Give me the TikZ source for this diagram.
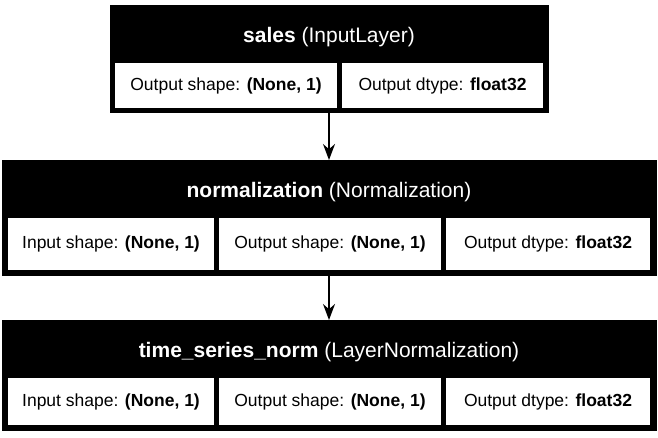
\documentclass[tikz,border=0pt]{standalone}
\usepackage{fontspec}
\setmainfont{Liberation Sans}
\usetikzlibrary{arrows.meta}
\begin{document}
\begin{tikzpicture}[x=1pt,y=-1pt,
  outer/.style={fill=black,draw=black},
  cell/.style={fill=white,draw=none,font=\fontsize{17.5}{20}\selectfont},
  ttl/.style={text=white,font=\fontsize{21}{24}\selectfont},
  arr/.style={-{Stealth[length=16pt,width=12pt]},line width=1.5pt}]
\useasboundingbox (0,0) rectangle (658,437);
% box 1
\fill[outer] (110,5) rectangle (548,112);
\node[ttl] (t1) at (329,37) {\textbf{sales} (InputLayer)};
\fill[cell] (115,63) rectangle (337,108);
\fill[cell] (342,63) rectangle (543,108);
\node[cell] (c11) at (226,86) {Output shape: \textbf{(None, 1)}};
\node[cell] (c12) at (442.5,86) {Output dtype: \textbf{float32}};
\coordinate (b1) at (329,112);
% box 2
\fill[outer] (2,160) rectangle (656,275);
\node[ttl] (t2) at (329,192) {\textbf{normalization} (Normalization)};
\fill[cell] (8,218) rectangle (214,270);
\fill[cell] (219,218) rectangle (441,270);
\fill[cell] (446,218) rectangle (650,270);
\node[cell] (c21) at (111,244) {Input shape: \textbf{(None, 1)}};
\node[cell] (c22) at (330,244) {Output shape: \textbf{(None, 1)}};
\node[cell] (c23) at (548,244) {Output dtype: \textbf{float32}};
\coordinate (a2) at (329,160);
\coordinate (b2) at (329,275);
% box 3
\fill[outer] (2,320) rectangle (656,430);
\node[ttl] (t3) at (329,352) {\textbf{time\_series\_norm} (LayerNormalization)};
\fill[cell] (8,378) rectangle (214,425);
\fill[cell] (219,378) rectangle (441,425);
\fill[cell] (446,378) rectangle (650,425);
\node[cell] (c31) at (111,402) {Input shape: \textbf{(None, 1)}};
\node[cell] (c32) at (330,402) {Output shape: \textbf{(None, 1)}};
\node[cell] (c33) at (548,402) {Output dtype: \textbf{float32}};
\coordinate (a3) at (329,320);
\draw[arr] (b1) -- (a2);
\draw[arr] (b2) -- (a3);
\end{tikzpicture}
\end{document}
